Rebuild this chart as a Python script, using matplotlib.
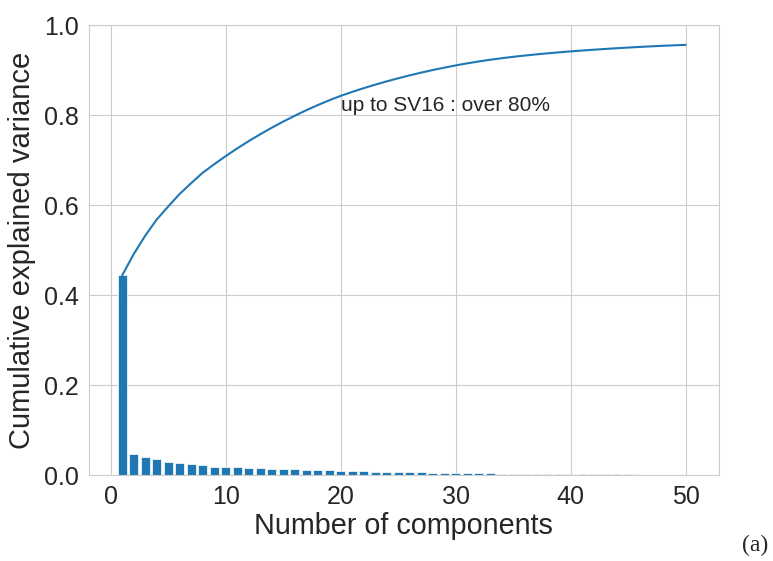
import matplotlib
matplotlib.use("Agg")
import matplotlib.pyplot as plt
import numpy as np
import seaborn as sns

# explained variance ratio per singular vector
components = list(range(1, 51))
explained = [
    0.444, 0.047, 0.041, 0.036, 0.029, 0.028, 0.024, 0.023, 0.019, 0.018,
    0.0172, 0.0162, 0.0152, 0.0145, 0.0137, 0.0129, 0.0122, 0.0115, 0.0107, 0.0099,
    0.0088, 0.0083, 0.0078, 0.0073, 0.0069, 0.0065, 0.0061, 0.0057, 0.0053, 0.0050,
    0.0046, 0.0042, 0.0038, 0.0034, 0.0031, 0.0028, 0.0026, 0.0024, 0.0022, 0.0021,
    0.0019, 0.0018, 0.0017, 0.0016, 0.0015, 0.0014, 0.0013, 0.0012, 0.0011, 0.0010,
]
note = "up to SV16 : over 80%"
panel = "(a)"

sns.set_style("whitegrid")
plt.rcParams["font.family"] = ["Liberation Sans", "DejaVu Sans"]

fig = plt.figure(figsize=(7.73, 5.61), dpi=100)
ax = fig.add_axes([0.115, 0.153, 0.815, 0.802])

cumulative = np.cumsum(explained)
ax.bar(components, explained, width=0.8, color="#1f77b4", edgecolor="white", linewidth=0.5)
ax.plot(components, cumulative, color="#1f77b4", linewidth=1.5)

ax.text(20, 0.81, note, fontsize=15, color="0.15")
ax.set_ylim(0, 1.0)
ax.set_xlabel("Number of components", fontsize=20.7, color="0.15", labelpad=2)
ax.set_ylabel("Cumulative explained variance", fontsize=21, color="0.15", labelpad=6)
ax.tick_params(labelsize=18, colors="0.15")

fig.text(0.994, 0.008, panel, fontsize=17, family="Liberation Serif", ha="right", va="bottom")

fig.savefig("out.png", dpi=100)
